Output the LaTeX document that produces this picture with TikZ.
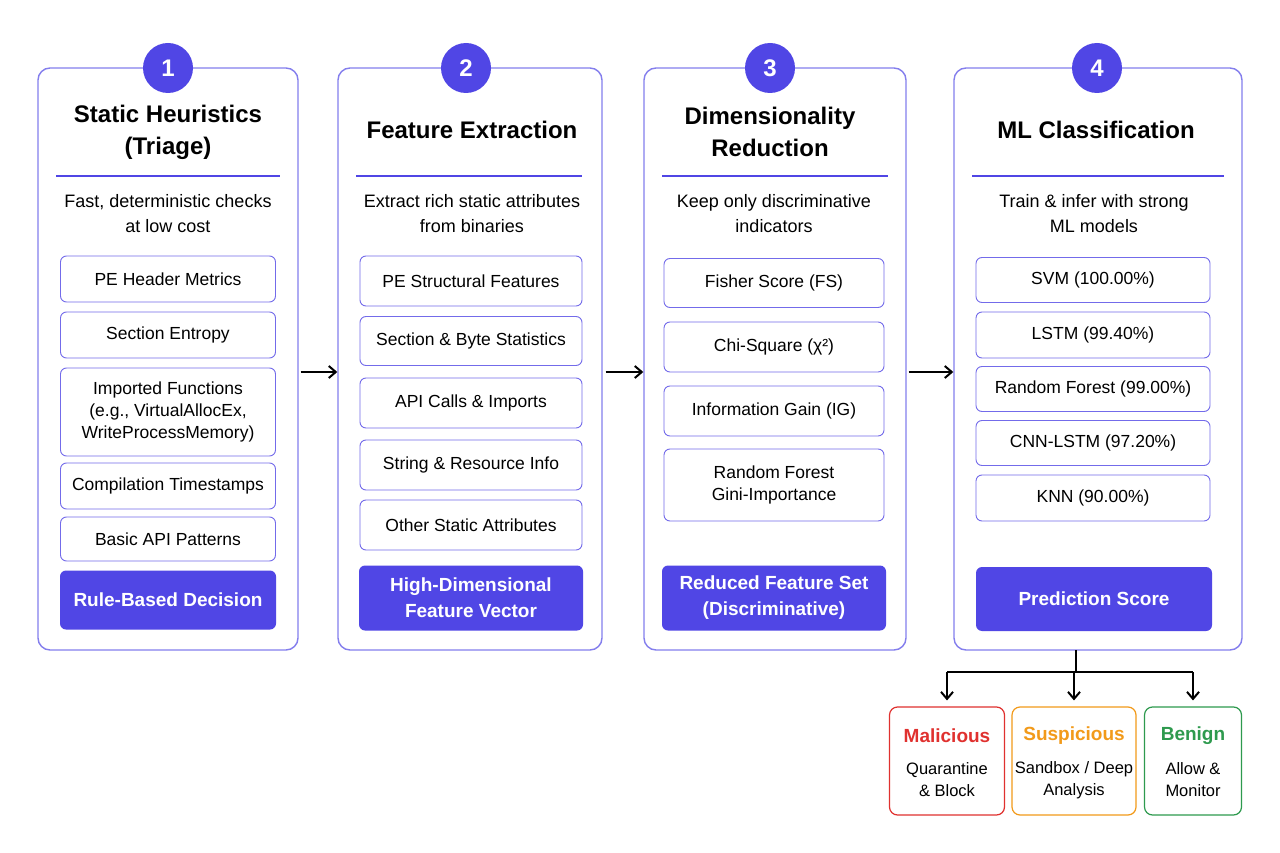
\documentclass[tikz,border=0pt]{standalone}
\usepackage{fontspec}
\setmainfont{Liberation Sans}
\usetikzlibrary{calc,arrows.meta}
\definecolor{indigo}{HTML}{5046E5}
\definecolor{malred}{HTML}{E0312F}
\definecolor{susorange}{HTML}{F29A1A}
\definecolor{bengreen}{HTML}{2E9A4E}
\tikzset{
  column/.style={draw=indigo!70,line width=1.4pt,rounded corners=12pt,fill=white},
  stagenum/.style={circle,fill=indigo,text=white,minimum size=50pt,inner sep=0pt,font=\fontsize{24}{26}\selectfont\bfseries},
  heading/.style={align=center,font=\fontsize{24}{32}\selectfont\bfseries},
  blurb/.style={align=center,font=\fontsize{18}{25}\selectfont},
  item/.style={draw=indigo!80,line width=0.9pt,rounded corners=6pt,align=center,inner sep=0pt,font=\fontsize{17.5}{22}\selectfont},
  decision/.style={fill=indigo,rounded corners=6pt,align=center,inner sep=0pt,text=white,font=\fontsize{19}{26}\selectfont\bfseries},
  outcome/.style={draw=#1,line width=1.2pt,rounded corners=8pt,minimum height=108pt,inner sep=0pt},
  flow/.style={-{Straight Barb[length=7pt,width=12pt]},line width=2pt}
}
\begin{document}
\begin{tikzpicture}[x=1pt,y=-1pt]
  \useasboundingbox[fill=white] (0,0) rectangle (1280,853);
  % columns
  \node[column,minimum width=260pt,minimum height=582pt] (c1) at (168,359) {};
  \node[column,minimum width=264pt,minimum height=582pt] (c2) at (470,359) {};
  \node[column,minimum width=262pt,minimum height=582pt] (c3) at (775,359) {};
  \node[column,minimum width=288pt,minimum height=582pt] (c4) at (1098,359) {};
  \node[stagenum] (n1) at (168,68) {1};
  \node[stagenum] (n2) at (466,68) {2};
  \node[stagenum] (n3) at (770,68) {3};
  \node[stagenum] (n4) at (1097,68) {4};
  % headings
  \node[heading] (h1) at (168,132) {Static Heuristics\\(Triage)};
  \node[heading] (h2) at (472,130) {Feature Extraction};
  \node[heading] (h3) at (770,132) {Dimensionality\\Reduction};
  \node[heading] (h4) at (1096,130) {ML Classification};
  \draw[indigo,line width=1.2pt] (56,176) -- (280,176);
  \draw[indigo,line width=1.2pt] (356,176) -- (582,176);
  \draw[indigo,line width=1.2pt] (662,176) -- (888,176);
  \draw[indigo,line width=1.2pt] (972,176) -- (1224,176);
  \node[blurb] (b1) at (168,214) {Fast, deterministic checks\\at low cost};
  \node[blurb] (b2) at (472,214) {Extract rich static attributes\\from binaries};
  \node[blurb] (b3) at (774,214) {Keep only discriminative\\indicators};
  \node[blurb] (b4) at (1094,214) {Train \& infer with strong\\ML models};
  % column 1
  \node[item,minimum width=215pt,minimum height=46pt] (a1) at (168,279) {PE Header Metrics};
  \node[item,minimum width=215pt,minimum height=46pt] (a2) at (168,335) {Section Entropy};
  \node[item,minimum width=215pt,minimum height=88pt] (a3) at (168,412) {Imported Functions\\(e.g., VirtualAllocEx,\\WriteProcessMemory)};
  \node[item,minimum width=215pt,minimum height=46pt] (a4) at (168,486) {Compilation Timestamps};
  \node[item,minimum width=215pt,minimum height=44pt] (a5) at (168,539) {Basic API Patterns};
  \node[decision,minimum width=216pt,minimum height=59pt] (d1) at (168,600) {Rule-Based Decision};
  % column 2
  \node[item,minimum width=222pt,minimum height=50pt] (e1) at (471,281) {PE Structural Features};
  \node[item,minimum width=222pt,minimum height=49pt] (e2) at (471,341) {Section \& Byte Statistics};
  \node[item,minimum width=222pt,minimum height=50pt] (e3) at (471,403) {API Calls \& Imports};
  \node[item,minimum width=222pt,minimum height=50pt] (e4) at (471,465) {String \& Resource Info};
  \node[item,minimum width=222pt,minimum height=50pt] (e5) at (471,525) {Other Static Attributes};
  \node[decision,minimum width=224pt,minimum height=65pt] (d2) at (471,598) {High-Dimensional\\Feature Vector};
  % column 3
  \node[item,minimum width=220pt,minimum height=49pt] (f1) at (774,283) {Fisher Score (FS)};
  \node[item,minimum width=220pt,minimum height=50pt] (f2) at (774,347) {Chi-Square (χ²)};
  \node[item,minimum width=220pt,minimum height=50pt] (f3) at (774,411) {Information Gain (IG)};
  \node[item,minimum width=220pt,minimum height=72pt] (f4) at (774,485) {Random Forest\\Gini-Importance};
  \node[decision,minimum width=224pt,minimum height=65pt] (d3) at (774,598) {Reduced Feature Set\\(Discriminative)};
  % column 4
  \node[item,minimum width=234pt,minimum height=45pt] (g1) at (1093,280) {SVM (100.00\%)};
  \node[item,minimum width=234pt,minimum height=46pt] (g2) at (1093,335) {LSTM (99.40\%)};
  \node[item,minimum width=234pt,minimum height=45pt] (g3) at (1093,389) {Random Forest (99.00\%)};
  \node[item,minimum width=234pt,minimum height=45pt] (g4) at (1093,443) {CNN-LSTM (97.20\%)};
  \node[item,minimum width=234pt,minimum height=46pt] (g5) at (1093,498) {KNN (90.00\%)};
  \node[decision,minimum width=236pt,minimum height=64pt] (d4) at (1094,599) {Prediction Score};
  % flow between stages
  \draw[flow] ([yshift=-13pt]c1.east) ++(2,0) -- ([yshift=-13pt]c2.west);
  \draw[flow] ([yshift=-13pt]c2.east) ++(3,0) -- ([yshift=-13pt]c3.west);
  \draw[flow] ([yshift=-13pt]c3.east) ++(2,0) -- ([yshift=-13pt]c4.west);
  % outcomes
  \node[outcome=malred,minimum width=115pt] (o1) at (947,761) {};
  \node[outcome=susorange,minimum width=124pt] (o2) at (1074,761) {};
  \node[outcome=bengreen,minimum width=97pt] (o3) at (1193,761) {};
  \node[text=malred,font=\fontsize{19}{22}\selectfont\bfseries] at (947,736) {Malicious};
  \node[text=susorange,font=\fontsize{19}{22}\selectfont\bfseries] at (1074,736) {Suspicious};
  \node[text=bengreen,font=\fontsize{19}{22}\selectfont\bfseries] at (1193,736) {Benign};
  \node[align=center,font=\fontsize{16.5}{22}\selectfont] at (947,780) {Quarantine\\\& Block};
  \node[align=center,font=\fontsize{16.5}{22}\selectfont] at (1074,780) {Sandbox / Deep\\Analysis};
  \node[align=center,font=\fontsize{16.5}{22}\selectfont] at (1193,780) {Allow \&\\Monitor};
  \coordinate (stem) at (1076,650);
  \coordinate (fork) at (1076,672);
  \draw[line width=2pt] (stem) -- (fork);
  \draw[line width=2pt] (fork -| o1.north) -- (fork -| o3.north);
  \draw[flow] (fork -| o1.north) -- ([yshift=6pt]o1.north);
  \draw[flow] (fork -| o2.north) -- ([yshift=6pt]o2.north);
  \draw[flow] (fork -| o3.north) -- ([yshift=6pt]o3.north);
\end{tikzpicture}
\end{document}
